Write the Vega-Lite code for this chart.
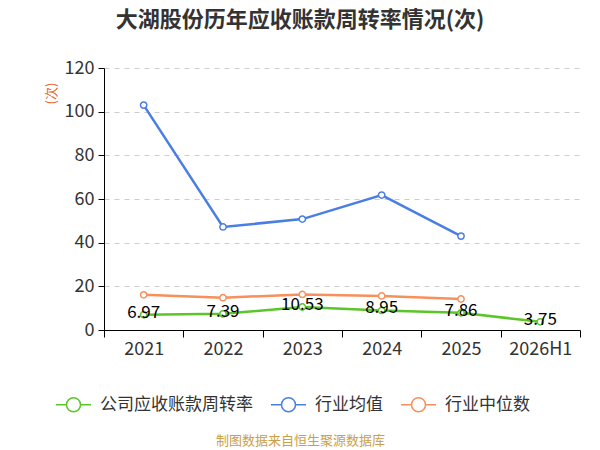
{
  "$schema": "https://vega.github.io/schema/vega-lite/v6.json",
  "autosize": "none",
  "width": 476,
  "height": 262,
  "padding": {"left": 104, "top": 68, "right": 20, "bottom": 120},
  "background": "white",
  "config": {
    "font": "Noto Sans CJK SC",
    "view": {"stroke": null}
  },
  "title": {
    "text": "大湖股份历年应收账款周转率情况(次)",
    "fontSize": 22,
    "fontWeight": "bold",
    "color": "#333333",
    "anchor": "middle",
    "dx": -42,
    "offset": 27
  },
  "data": {
    "values": [
      {"year": "2021", "series": "公司应收账款周转率", "value": 6.97},
      {"year": "2022", "series": "公司应收账款周转率", "value": 7.39},
      {"year": "2023", "series": "公司应收账款周转率", "value": 10.53},
      {"year": "2024", "series": "公司应收账款周转率", "value": 8.95},
      {"year": "2025", "series": "公司应收账款周转率", "value": 7.86},
      {"year": "2026H1", "series": "公司应收账款周转率", "value": 3.75},
      {"year": "2021", "series": "行业均值", "value": 103},
      {"year": "2022", "series": "行业均值", "value": 47.2},
      {"year": "2023", "series": "行业均值", "value": 50.8},
      {"year": "2024", "series": "行业均值", "value": 61.8},
      {"year": "2025", "series": "行业均值", "value": 43},
      {"year": "2021", "series": "行业中位数", "value": 16.1},
      {"year": "2022", "series": "行业中位数", "value": 14.8},
      {"year": "2023", "series": "行业中位数", "value": 16.3},
      {"year": "2024", "series": "行业中位数", "value": 15.6},
      {"year": "2025", "series": "行业中位数", "value": 14.2}
    ]
  },
  "encoding": {
    "x": {
      "field": "year",
      "type": "ordinal",
      "sort": null,
      "scale": {"paddingInner": 0, "paddingOuter": 0},
      "axis": {
        "title": "制图数据来自恒生聚源数据库",
        "titleColor": "#c9a04a",
        "titleFontSize": 13,
        "titleFontWeight": "normal",
        "titleX": 196,
        "titleY": 104,
        "labelAngle": 0,
        "labelFontSize": 18,
        "labelColor": "#333333",
        "labelPadding": 3,
        "domainColor": "#000000",
        "tickColor": "#000000",
        "tickSize": 7,
        "tickBand": "extent",
        "grid": false
      }
    },
    "y": {
      "field": "value",
      "type": "quantitative",
      "scale": {"domain": [0, 120]},
      "axis": {
        "title": "(次)",
        "titleColor": "#e8632a",
        "titleFontSize": 13,
        "titleFontWeight": "normal",
        "titleX": -46,
        "titleY": 25,
        "titleAlign": "center",
        "values": [0, 20, 40, 60, 80, 100, 120],
        "labelFontSize": 18,
        "labelColor": "#333333",
        "labelPadding": 4,
        "domainColor": "#000000",
        "tickColor": "#000000",
        "tickSize": 6,
        "gridColor": "#cccccc",
        "gridDash": [5, 5]
      }
    },
    "color": {
      "field": "series",
      "type": "nominal",
      "scale": {
        "domain": ["公司应收账款周转率", "行业均值", "行业中位数"],
        "range": ["#5cc52a", "#4a7ee3", "#f7905a"]
      },
      "legend": {
        "title": null,
        "orient": "none",
        "direction": "horizontal",
        "legendX": -49,
        "legendY": 318,
        "labelFontSize": 17,
        "labelColor": "#333333",
        "symbolType": "M-1,0H-0.4M0.4,0A0.4,0.4 0 1,1 -0.4,0A0.4,0.4 0 1,1 0.4,0M0.4,0H1",
        "symbolSize": 1225,
        "symbolStrokeWidth": 1.5,
        "symbolFillColor": "transparent",
        "columnPadding": 15,
        "labelOffset": 8
      }
    }
  },
  "layer": [
    {
      "mark": {
        "type": "line",
        "strokeWidth": 2.5,
        "point": {"filled": false, "fill": "white", "size": 40, "strokeWidth": 1.5}
      }
    },
    {
      "transform": [{"filter": "datum.series === '公司应收账款周转率'"}],
      "mark": {"type": "text", "fontSize": 17, "color": "#000000", "dy": -2},
      "encoding": {
        "text": {"field": "value", "type": "quantitative", "format": ".2f"},
        "color": {"value": "#000000"}
      }
    }
  ]
}
